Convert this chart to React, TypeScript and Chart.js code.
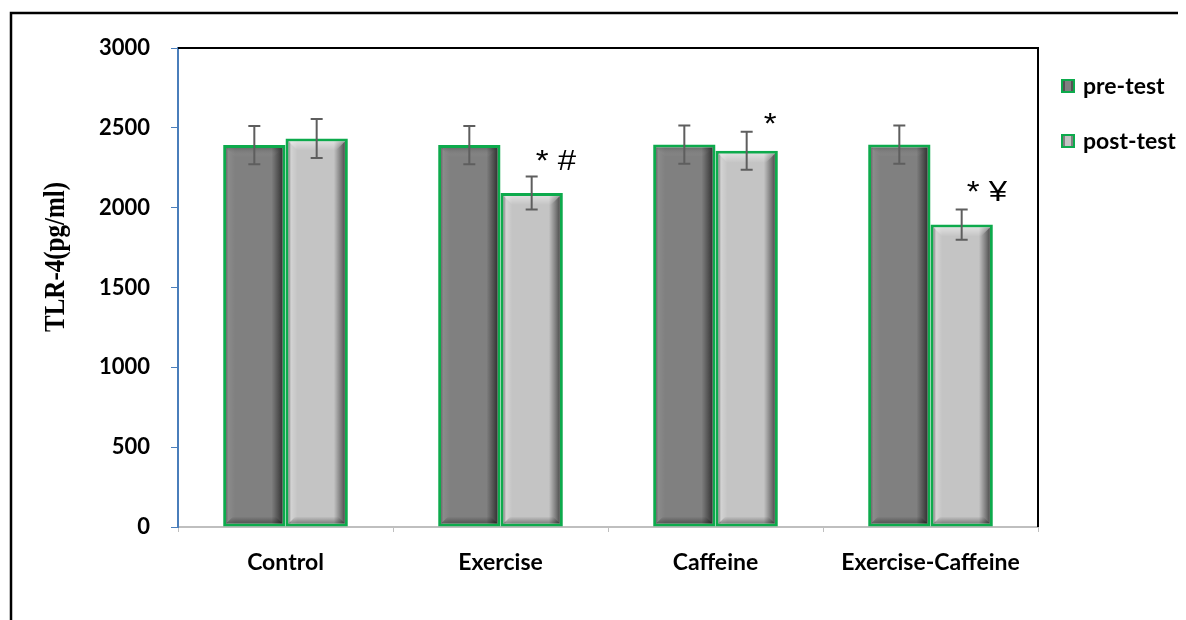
import { useEffect, useRef } from 'react';
import { Chart, registerables } from 'chart.js';

Chart.register(...registerables);

// ---- data ----
const categories = ['Control', 'Exercise', 'Caffeine', 'Exercise-Caffeine'];
const seriesNames = ['pre-test', 'post-test'];
const preTest = [2392, 2392, 2395, 2395];
const postTest = [2433, 2092, 2356, 1894];
const preErr = [120, 120, 120, 120];
const postErr = [122, 103, 119, 95];
const significance = ['', '* #', '*', '* ¥'];
const yMin = 0;
const yMax = 3000;
const yStep = 500;
const yTitle = 'TLR-4(pg/ml)';

// ---- styles ----
const W = 1178;
const H = 612;
const FONT = 'Lato';
const fills = ['#808080', '#C4C4C4'];
const green = '#0DAA4C';
const axisBlue = '#4A7EBB';
const sigOffsetX = [0, 4, 17, 5];
const sigOffsetY = [0, 19, 11, 21];

function drawBevel(ctx: CanvasRenderingContext2D, l: number, t: number, r: number, b: number, light: boolean) {
  let g = ctx.createLinearGradient(l, 0, l + 9, 0);
  g.addColorStop(0, 'rgba(0,0,0,0.35)');
  g.addColorStop(0.3, light ? 'rgba(255,255,255,0.25)' : 'rgba(255,255,255,0.08)');
  g.addColorStop(1, 'rgba(255,255,255,0)');
  ctx.fillStyle = g;
  ctx.fillRect(l, t, 9, b - t);
  g = ctx.createLinearGradient(r - 11, 0, r, 0);
  g.addColorStop(0, 'rgba(0,0,0,0)');
  g.addColorStop(0.6, 'rgba(0,0,0,0.35)');
  g.addColorStop(1, 'rgba(0,0,0,0.6)');
  ctx.fillStyle = g;
  ctx.fillRect(r - 11, t, 11, b - t);
  g = ctx.createLinearGradient(0, t, 0, t + 9);
  g.addColorStop(0, light ? 'rgba(255,255,255,0.45)' : 'rgba(0,0,0,0.15)');
  g.addColorStop(1, 'rgba(255,255,255,0)');
  ctx.fillStyle = g;
  ctx.beginPath();
  ctx.moveTo(l, t);
  ctx.lineTo(r, t);
  ctx.lineTo(r - 9, t + 9);
  ctx.lineTo(l + 9, t + 9);
  ctx.closePath();
  ctx.fill();
  g = ctx.createLinearGradient(0, b - 7, 0, b);
  g.addColorStop(0, 'rgba(0,0,0,0)');
  g.addColorStop(1, 'rgba(0,0,0,0.35)');
  ctx.fillStyle = g;
  ctx.beginPath();
  ctx.moveTo(l + 7, b - 7);
  ctx.lineTo(r - 7, b - 7);
  ctx.lineTo(r, b);
  ctx.lineTo(l, b);
  ctx.closePath();
  ctx.fill();
}

const decorPlugin = {
  id: 'decor',
  beforeDraw(chart: any) {
    const ctx = chart.ctx;
    ctx.save();
    ctx.fillStyle = '#ffffff';
    ctx.fillRect(0, 0, chart.width, chart.height);
    ctx.strokeStyle = '#000';
    ctx.lineWidth = 2.5;
    ctx.beginPath();
    ctx.moveTo(3, chart.height + 2);
    ctx.lineTo(3, 5);
    ctx.lineTo(chart.width + 2, 5);
    ctx.stroke();
    ctx.restore();
  },
  afterDatasetsDraw(chart: any) {
    const ctx = chart.ctx;
    const ys = chart.scales.y;
    const area = chart.chartArea;
    ctx.save();
    chart.data.datasets.forEach((_: any, di: number) => {
      const meta = chart.getDatasetMeta(di);
      meta.data.forEach((el: any) => {
        const p = el.getProps(['x', 'y', 'base', 'width'], true);
        const bw = 3;
        const l = p.x - p.width / 2 + bw;
        const r = p.x + p.width / 2 - bw;
        const t = Math.min(p.y, p.base) + bw;
        const b = Math.max(p.y, p.base) - bw;
        drawBevel(ctx, l, t, r, b, di === 1);
      });
    });
    const errs = [preErr, postErr];
    const vals = [preTest, postTest];
    ctx.strokeStyle = '#5E5E5E';
    ctx.lineWidth = 2;
    chart.data.datasets.forEach((_: any, di: number) => {
      const meta = chart.getDatasetMeta(di);
      meta.data.forEach((el: any, i: number) => {
        const x = el.x;
        const yT = ys.getPixelForValue(vals[di][i] + errs[di][i]);
        const yB = ys.getPixelForValue(vals[di][i] - errs[di][i]);
        ctx.beginPath();
        ctx.moveTo(x, yT);
        ctx.lineTo(x, yB);
        ctx.moveTo(x - 6, yT);
        ctx.lineTo(x + 6, yT);
        ctx.moveTo(x - 6, yB);
        ctx.lineTo(x + 6, yB);
        ctx.stroke();
      });
    });
    ctx.fillStyle = '#000';
    ctx.font = '30px "Liberation Sans"';
    ctx.textAlign = 'left';
    ctx.textBaseline = 'middle';
    const meta1 = chart.getDatasetMeta(1);
    meta1.data.forEach((el: any, i: number) => {
      const s = significance[i];
      if (!s) return;
      const y = ys.getPixelForValue(postTest[i] + postErr[i]) - sigOffsetY[i];
      ctx.save();
      ctx.translate(el.x + sigOffsetX[i], y + 4);
      ctx.scale(1.1, 1);
      ctx.fillText(s, 0, 0);
      ctx.restore();
    });
    ctx.strokeStyle = '#000';
    ctx.lineWidth = 2;
    ctx.beginPath();
    ctx.moveTo(area.left, area.top);
    ctx.lineTo(area.right, area.top);
    ctx.lineTo(area.right, area.bottom);
    ctx.stroke();
    ctx.restore();
  },
  afterDraw(chart: any) {
    const ctx = chart.ctx;
    ctx.save();
    ctx.translate(49, 249);
    ctx.rotate(-Math.PI / 2);
    ctx.scale(1, 1.15);
    ctx.fillStyle = '#000';
    ctx.font = 'bold 25px "Liberation Serif"';
    ctx.textAlign = 'center';
    ctx.textBaseline = 'middle';
    ctx.fillText(yTitle, 0, 0);
    ctx.restore();
    ctx.save();
    const itemY = [78, 133];
    seriesNames.forEach((name, i) => {
      const cy = itemY[i];
      const bx = 1053;
      const s = 14;
      ctx.fillStyle = green;
      ctx.fillRect(bx, cy - s / 2, s, s);
      ctx.fillStyle = fills[i];
      ctx.fillRect(bx + 2, cy - s / 2 + 2, s - 4, s - 4);
      ctx.fillStyle = 'rgba(0,0,0,0.35)';
      ctx.fillRect(bx + 2, cy - s / 2 + 2, 2, s - 4);
      ctx.fillRect(bx + s - 4, cy - s / 2 + 2, 2, s - 4);
      ctx.fillStyle = '#000';
      ctx.font = `bold 23px ${FONT}`;
      ctx.textAlign = 'left';
      ctx.textBaseline = 'middle';
      ctx.fillText(name, 1075, cy + 1);
    });
    ctx.restore();
  },
};

export default function App() {
  const ref = useRef<HTMLCanvasElement | null>(null);
  useEffect(() => {
    if (!ref.current) return;
    const chart = new Chart(ref.current, {
      type: 'bar',
      data: {
        labels: categories,
        datasets: [
          {
            label: seriesNames[0],
            data: preTest,
            backgroundColor: fills[0],
            borderColor: green,
            borderWidth: 3,
            borderSkipped: false,
          },
          {
            label: seriesNames[1],
            data: postTest,
            backgroundColor: fills[1],
            borderColor: green,
            borderWidth: 3,
            borderSkipped: false,
          },
        ],
      },
      options: {
        responsive: false,
        animation: false,
        layout: { padding: { top: 40, right: 148, left: 0, bottom: 0 } },
        datasets: { bar: { categoryPercentage: 0.58, barPercentage: 1 } },
        plugins: {
          legend: { display: false },
          tooltip: { enabled: false },
        },
        scales: {
          x: {
            afterFit: (s: any) => { s.height = 93; },
            grid: {
              offset: true,
              drawOnChartArea: false,
              drawTicks: true,
              tickLength: 5,
              color: '#BFBFBF',
            },
            border: { color: '#BFBFBF', width: 2 },
            ticks: {
              color: '#000',
              padding: 17,
              font: { family: FONT, size: 23, weight: 'bold' },
            },
          },
          y: {
            min: yMin,
            max: yMax,
            afterFit: (s: any) => { s.width = 170; },
            grid: {
              drawOnChartArea: false,
              drawTicks: true,
              tickLength: 7,
              color: axisBlue,
            },
            border: { color: axisBlue, width: 2 },
            ticks: {
              stepSize: yStep,
              color: '#000',
              padding: 21,
              callback: (v: any) => String(v),
              font: { family: FONT, size: 22, weight: 'bold' },
            },
          },
        },
      },
      plugins: [decorPlugin],
    } as any);
    return () => chart.destroy();
  }, []);
  return (
    <div style={{ width: W, height: H }}>
      <canvas ref={ref} width={W} height={H} style={{ display: 'block', width: W, height: H }} />
    </div>
  );
}
